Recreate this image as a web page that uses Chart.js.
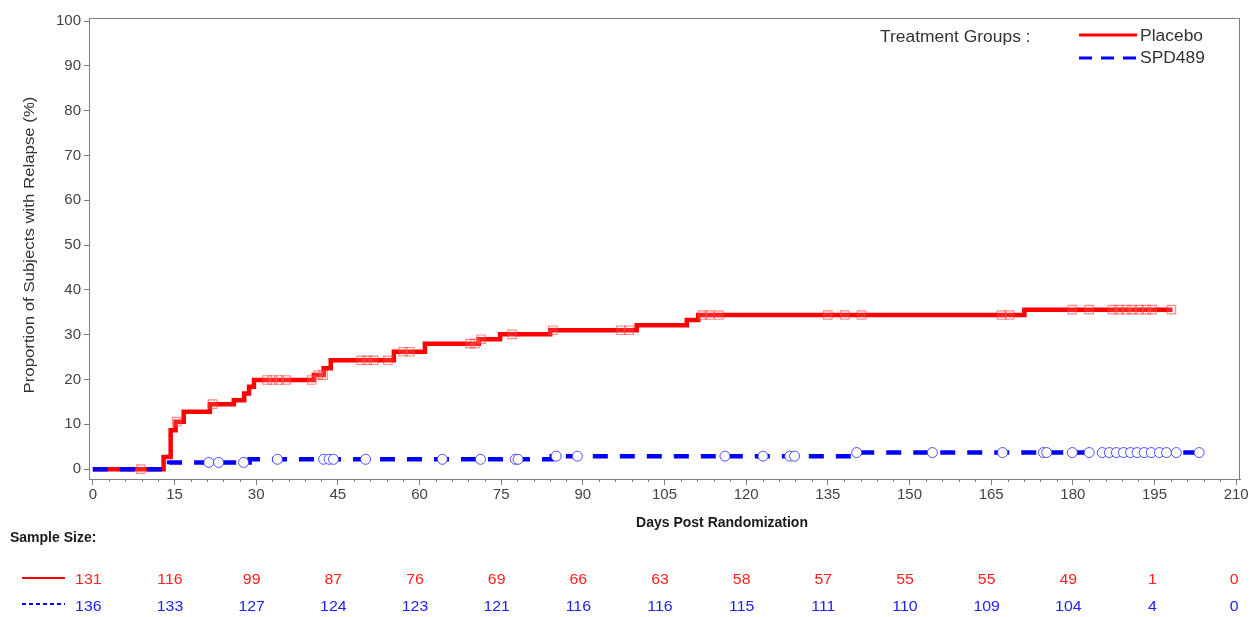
<!DOCTYPE html>
<html><head><meta charset="utf-8">
<script src="https://cdn.jsdelivr.net/npm/chart.js@4/dist/chart.umd.min.js"></script>
<style>html,body{margin:0;padding:0;background:#fff;}canvas{display:block;}</style>
</head><body>
<canvas id="c" width="1253" height="617"></canvas>
<script>
// ---- Data ----
const xTicks = [0,15,30,45,60,75,90,105,120,135,150,165,180,195,210];
const yTicks = [0,10,20,30,40,50,60,70,80,90,100];

const placeboDays = [0, 13.0, 14.3, 15.2, 16.7, 21.5, 25.9, 27.8, 28.7, 29.6, 40.6, 42.4, 43.7, 55.3, 61.0, 70.9, 74.8, 84.0, 99.9, 109.1, 111.2, 171.1, 198.3];
const placeboPct  = [0, 2.7, 8.7, 10.6, 12.8, 14.5, 15.4, 16.9, 18.4, 19.9, 21.0, 22.5, 24.3, 26.2, 28.0, 29.0, 30.1, 31.0, 32.1, 33.3, 34.4, 35.6, 35.6];

const spdDays = [0, 13.3, 14.0, 28.8, 84.3, 139.9, 203.2];
const spdPct  = [0, 0.7, 1.5, 2.2, 2.9, 3.7, 3.7];

const placeboCensorDays = [8.8, 15.4, 22.0, 32.0, 33.0, 34.2, 35.5, 40.2, 41.4, 42.3, 49.3, 50.4, 51.6, 54.2, 57.0, 58.2, 69.3, 70.2, 71.3, 77.0, 84.5, 97.0, 98.5, 112.0, 113.3, 115.0, 135.0, 138.1, 141.2, 166.9, 168.4, 179.9, 183.0, 187.3, 188.5, 189.8, 190.9, 192.2, 193.5, 194.6, 198.1];
const spdCensorDays = [21.3, 23.1, 27.7, 33.9, 42.4, 43.4, 44.2, 50.1, 64.2, 71.2, 77.6, 78.1, 85.1, 89.0, 116.1, 123.1, 128.0, 128.9, 140.3, 154.2, 167.1, 174.6, 175.2, 179.9, 183.0, 185.4, 186.7, 188.0, 189.3, 190.6, 191.8, 193.1, 194.4, 195.9, 197.2, 199.0, 203.2];

const atRiskDays = [0,15,30,45,60,75,90,105,120,135,150,165,180,195,210];
const placeboAtRisk = [131,116,99,87,76,69,66,63,58,57,55,55,49,1,0];
const spdAtRisk     = [136,133,127,124,123,121,116,116,115,111,110,109,104,4,0];

const seriesNames = ['Placebo','SPD489'];
const RED = '#ff0000', BLUE = '#0000ff';
const FONT = '"Liberation Sans", Arial, sans-serif';

// ---- helpers ----
function curveValueAt(xs, ys, t){ let v = ys[0]; for (let i=0;i<xs.length;i++){ if (xs[i] <= t) v = ys[i]; } return v; }
const toPts = (xs, ys) => xs.map((x,i)=>({x, y: ys[i]}));
const censorPts = (days, xs, ys) => days.map(d => ({x: d, y: curveValueAt(xs, ys, d)}));

// text drawn with a slight horizontal stretch (x-scale)
function txt(ctx, s, x, y, sx, rot){
  ctx.save(); ctx.translate(x, y); if (rot) ctx.rotate(rot); ctx.scale(sx, 1); ctx.fillText(s, 0, 0); ctx.restore();
}

const decor = {
  id: 'decor',
  afterDraw(chart){
    const ctx = chart.ctx, a = chart.chartArea, xs = chart.scales.x;
    ctx.save();
    // frame
    ctx.strokeStyle = '#808080'; ctx.lineWidth = 1;
    ctx.strokeRect(Math.round(a.left)+0.5, Math.round(a.top)+0.5, Math.round(a.right-a.left)-1, Math.round(a.bottom-a.top));
    // minor x ticks
    ctx.beginPath();
    for (let d = 3; d < 210; d += 3){ if (d % 15 === 0) continue; const px = Math.round(xs.getPixelForValue(d))+0.5; ctx.moveTo(px, a.bottom); ctx.lineTo(px, a.bottom+3); }
    ctx.stroke();
    // y title
    ctx.fillStyle = '#333'; ctx.font = '15px ' + FONT; ctx.textAlign = 'center'; ctx.textBaseline = 'middle';
    txt(ctx, 'Proportion of Subjects with Relapse (%)', 30, 245, 1.12, -Math.PI/2);
    // x title
    ctx.fillStyle = '#1a1a1a'; ctx.font = 'bold 14px ' + FONT;
    txt(ctx, 'Days Post Randomization', 722, 523, 1.0);
    // Sample size
    ctx.textAlign = 'left'; ctx.font = 'bold 14px ' + FONT;
    txt(ctx, 'Sample Size:', 10, 538, 1.0);
    // at risk rows
    ctx.lineWidth = 2; ctx.strokeStyle = RED; ctx.beginPath(); ctx.moveTo(22, 578); ctx.lineTo(65, 578); ctx.stroke();
    ctx.strokeStyle = BLUE; ctx.setLineDash([4,3]); ctx.beginPath(); ctx.moveTo(22, 604); ctx.lineTo(65, 604); ctx.stroke(); ctx.setLineDash([]);
    ctx.font = '15px ' + FONT; ctx.textAlign = 'center';
    atRiskDays.forEach((d,i) => {
      const px = xs.getPixelForValue(d) - (i >= atRiskDays.length - 2 ? 2 : 4.5);
      ctx.fillStyle = '#ff2020'; txt(ctx, String(placeboAtRisk[i]), px, 580, 1.06);
      ctx.fillStyle = '#2020ff'; txt(ctx, String(spdAtRisk[i]), px, 607, 1.06);
    });
    // legend
    ctx.textAlign = 'left'; ctx.fillStyle = '#333'; ctx.font = '16px ' + FONT;
    txt(ctx, 'Treatment Groups :', 880, 38, 1.09);
    ctx.lineWidth = 3; ctx.strokeStyle = RED; ctx.beginPath(); ctx.moveTo(1079, 35); ctx.lineTo(1137, 35); ctx.stroke();
    ctx.strokeStyle = BLUE; ctx.setLineDash([13,9]); ctx.beginPath(); ctx.moveTo(1079, 58); ctx.lineTo(1137, 58); ctx.stroke(); ctx.setLineDash([]);
    txt(ctx, seriesNames[0], 1140, 37, 1.09);
    txt(ctx, seriesNames[1], 1140, 59, 1.09);
    ctx.restore();
  }
};

new Chart(document.getElementById('c'), {
  type: 'scatter',
  data: {
    datasets: [
      { label: seriesNames[1]+' censored', data: censorPts(spdCensorDays, spdDays, spdPct), showLine: false,
        pointStyle: 'circle', pointRadius: 5, pointBorderWidth: 1, pointBorderColor: 'rgba(50,50,255,0.85)', pointBackgroundColor: '#ffffff', order: 0 },
      { label: seriesNames[1], data: toPts(spdDays, spdPct), showLine: true, stepped: true, borderColor: BLUE, borderWidth: 4.5,
        borderDash: [15,12], pointRadius: 0, order: 1 },
      { label: seriesNames[0]+' censored', data: censorPts(placeboCensorDays, placeboDays, placeboPct), showLine: false,
        pointStyle: 'rect', pointRadius: 6, pointBorderWidth: 1.2, pointBorderColor: 'rgba(255,60,60,0.6)', pointBackgroundColor: 'rgba(255,200,200,0.15)', order: 2 },
      { label: seriesNames[0], data: toPts(placeboDays, placeboPct), showLine: true, stepped: true, borderColor: RED, borderWidth: 4.5,
        pointRadius: 0, order: 3 }
    ]
  },
  options: {
    responsive: false, animation: false,
    layout: { padding: { top: 18, right: 13, left: 0, bottom: 0 } },
    plugins: { legend: { display: false }, tooltip: { enabled: false } },
    scales: {
      x: { type: 'linear', min: -0.7, max: 210.7,
        afterBuildTicks: s => { s.ticks = xTicks.map(v => ({value: v})); },
        afterFit: s => { s.height = 138; },
        ticks: { font: { size: 15, family: FONT }, color: '#444', maxRotation: 0, autoSkip: false, padding: 1 },
        grid: { drawOnChartArea: false, tickLength: 6, color: '#808080' },
        border: { color: '#808080' } },
      y: { type: 'linear', min: -2.2, max: 100.7,
        afterBuildTicks: s => { s.ticks = yTicks.map(v => ({value: v})); },
        afterFit: s => { s.width = 89; },
        ticks: { font: { size: 15, family: FONT }, color: '#444', padding: 3 },
        grid: { drawOnChartArea: false, tickLength: 5, color: '#808080' },
        border: { color: '#808080' } }
    }
  },
  plugins: [decor]
});
</script>
</body></html>
